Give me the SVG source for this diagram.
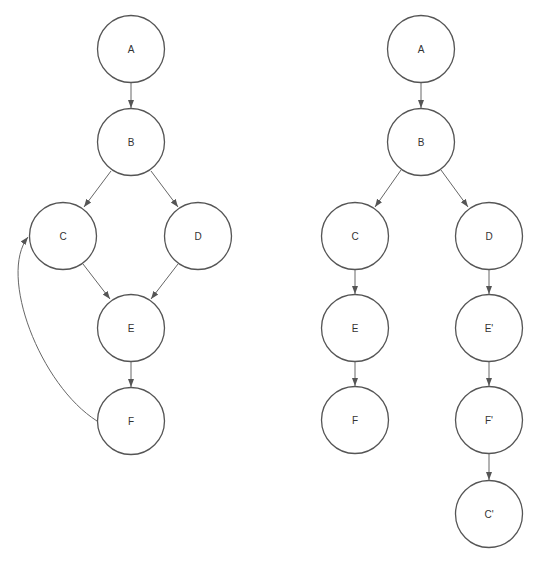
<svg xmlns="http://www.w3.org/2000/svg" width="540" height="565" viewBox="0 0 540 565">
<style>
.n circle{fill:#fff;stroke:#555;stroke-width:1.3}
.n text{font-family:"Liberation Sans",Arial,sans-serif;font-size:10px;fill:#333;text-anchor:middle;dominant-baseline:central}
.e{fill:none;stroke:#666;stroke-width:1;marker-end:url(#ah)}
</style>
<defs>
<marker id="ah" markerUnits="userSpaceOnUse" markerWidth="8" markerHeight="8" viewBox="0 0 8 8" refX="8" refY="4" orient="auto">
<path d="M0,1 L8,4 L0,7 z" fill="#555"/>
</marker>
</defs>
<rect width="540" height="565" fill="#fff"/>
<g id="edges">
<path class="e" d="M131,83 L131,108"/>
<path class="e" d="M111,171 L84,207"/>
<path class="e" d="M151,171 L178,207"/>
<path class="e" d="M83,264 L110,299"/>
<path class="e" d="M178,264 L151,299"/>
<path class="e" d="M131,362 L131,387"/>
<path class="e" d="M97,421 C40,385 -2,275 28,237"/>
<path class="e" d="M421,82 L421,108"/>
<path class="e" d="M401,170 L375,207"/>
<path class="e" d="M441,170 L468,207"/>
<path class="e" d="M355,270 L355,294"/>
<path class="e" d="M355,362 L355,386"/>
<path class="e" d="M489,270 L489,294"/>
<path class="e" d="M489,362 L489,386"/>
<path class="e" d="M489,454 L489,480"/>
</g>
<g id="A1" class="n"><circle cx="131" cy="49" r="33.5"/><text x="131" y="49">A</text></g>
<g id="B1" class="n"><circle cx="131" cy="142" r="33.5"/><text x="131" y="142">B</text></g>
<g id="C1" class="n"><circle cx="63" cy="236" r="33.5"/><text x="63" y="236">C</text></g>
<g id="D1" class="n"><circle cx="198" cy="236" r="33.5"/><text x="198" y="236">D</text></g>
<g id="E1" class="n"><circle cx="131" cy="328" r="33.5"/><text x="131" y="328">E</text></g>
<g id="F1" class="n"><circle cx="131" cy="421" r="33.5"/><text x="131" y="421">F</text></g>
<g id="A2" class="n"><circle cx="421" cy="49" r="33.5"/><text x="421" y="49">A</text></g>
<g id="B2" class="n"><circle cx="421" cy="142" r="33.5"/><text x="421" y="142">B</text></g>
<g id="C2" class="n"><circle cx="355" cy="236" r="33.5"/><text x="355" y="236">C</text></g>
<g id="D2" class="n"><circle cx="489" cy="236" r="33.5"/><text x="489" y="236">D</text></g>
<g id="E2" class="n"><circle cx="355" cy="328" r="33.5"/><text x="355" y="328">E</text></g>
<g id="F2" class="n"><circle cx="355" cy="420" r="33.5"/><text x="355" y="420">F</text></g>
<g id="E3" class="n"><circle cx="489" cy="328" r="33.5"/><text x="489" y="328">E'</text></g>
<g id="F3" class="n"><circle cx="489" cy="420" r="33.5"/><text x="489" y="420">F'</text></g>
<g id="C3" class="n"><circle cx="489" cy="514" r="33.5"/><text x="489" y="514">C'</text></g>
</svg>
